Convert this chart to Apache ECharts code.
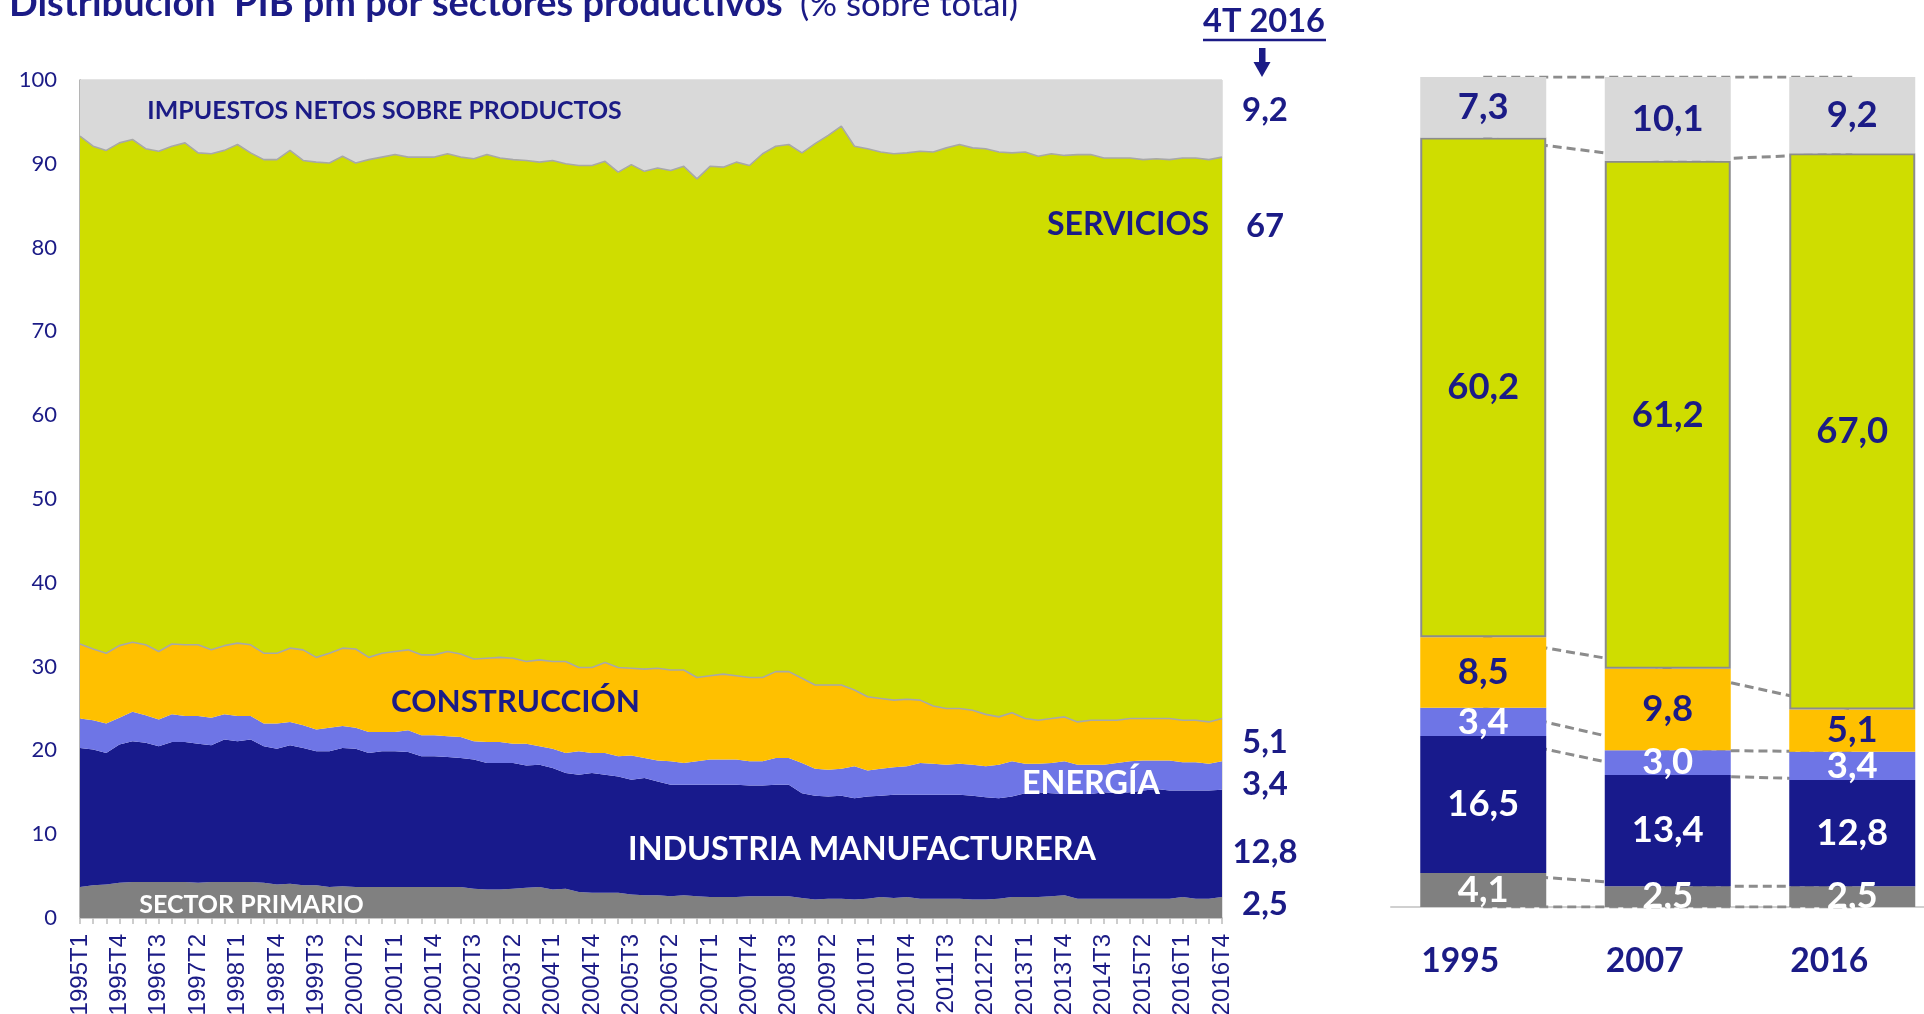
<!DOCTYPE html>
<html>
<head>
<meta charset="utf-8">
<title>Distribución PIB pm por sectores productivos</title>
<script src="https://cdn.jsdelivr.net/npm/echarts@6/dist/echarts.min.js"></script>
<style>
  html, body { margin: 0; padding: 0; background: #ffffff; }
  #chart { width: 1924px; height: 1014px; }
</style>
</head>
<body>
<div id="chart"></div>
<script>
// Quarterly categories 1995T1 … 2016T4
const years = [1995, 1996, 1997, 1998, 1999, 2000, 2001, 2002, 2003, 2004, 2005,
               2006, 2007, 2008, 2009, 2010, 2011, 2012, 2013, 2014, 2015, 2016];
const quarters = [];
years.forEach(y => { for (let q = 1; q <= 4; q++) quarters.push(y + 'T' + q); });

// Share of GDP at market prices by sector, % of total (quarterly)
const primario = [3.7,3.9,4.0,4.2,4.3,4.3,4.3,4.3,4.3,4.2, 4.3,4.3,4.3,4.3,4.2,4.0,4.1,3.9,3.9,3.7,
                  3.8,3.7,3.7,3.7,3.7,3.7,3.7,3.7,3.7,3.7, 3.5,3.4,3.4,3.5,3.6,3.7,3.4,3.5,3.1,3.0,
                  3.0,3.0,2.8,2.7,2.7,2.6,2.7,2.6,2.5,2.5, 2.5,2.6,2.6,2.6,2.6,2.4,2.2,2.3,2.3,2.2,
                  2.3,2.5,2.4,2.5,2.3,2.3,2.3,2.3,2.2,2.2, 2.3,2.5,2.5,2.5,2.6,2.7,2.3,2.3,2.3,2.3,
                  2.3,2.3,2.3,2.3,2.5,2.3,2.3,2.5];
const industria = [16.6,16.2,15.7,16.5,16.8,16.6,16.2,16.7,16.7,16.6, 16.3,17.0,16.8,17.0,16.3,16.2,16.5,16.4,16.0,16.2,
                   16.5,16.5,16.0,16.2,16.2,16.1,15.6,15.6,15.5,15.4, 15.4,15.1,15.1,15.0,14.6,14.6,14.5,13.8,14.0,14.3,
                   14.1,13.9,13.7,14.0,13.6,13.3,13.2,13.3,13.4,13.4, 13.4,13.2,13.2,13.3,13.3,12.5,12.4,12.2,12.3,12.1,
                   12.2,12.1,12.3,12.2,12.4,12.4,12.4,12.4,12.4,12.2, 12.0,12.0,12.4,12.5,12.3,12.1,12.5,12.5,12.7,12.6,
                   12.7,12.9,13.1,12.9,12.7,12.9,12.9,12.8];
const energia = [3.5,3.5,3.5,3.2,3.5,3.3,3.2,3.3,3.1,3.3, 3.3,3.0,3.0,2.8,2.7,3.0,2.8,2.7,2.6,2.8,
                 2.6,2.5,2.5,2.3,2.3,2.6,2.5,2.5,2.5,2.5, 2.2,2.5,2.5,2.3,2.6,2.2,2.3,2.4,2.8,2.4,
                 2.6,2.4,2.9,2.4,2.5,2.8,2.6,2.8,3.0,3.0, 3.0,2.9,2.9,3.2,3.2,3.6,3.2,3.2,3.2,3.8,
                 3.1,3.2,3.3,3.4,3.8,3.7,3.6,3.7,3.7,3.7, 4.0,4.2,3.5,3.4,3.6,3.9,3.5,3.5,3.3,3.6,
                 3.7,3.6,3.4,3.6,3.4,3.4,3.2,3.4];
const construccion = [8.9,8.5,8.4,8.6,8.3,8.4,8.1,8.4,8.5,8.5, 8.1,8.2,8.7,8.5,8.4,8.4,8.8,9.0,8.6,8.9,
                      9.3,9.4,8.9,9.4,9.6,9.6,9.6,9.6,10.1,9.9, 9.8,10.0,10.1,10.2,9.8,10.3,10.4,10.9,10.0,10.2,
                      10.8,10.6,10.4,10.6,11.0,10.9,11.1,10.0,10.0,10.2, 10.0,10.0,10.0,10.3,10.3,10.1,10.0,10.1,10.0,9.1,
                      8.8,8.4,8.0,8.0,7.5,6.9,6.7,6.6,6.5,6.2, 5.7,5.8,5.4,5.2,5.3,5.3,5.1,5.3,5.3,5.1,
                      5.1,5.0,5.0,5.0,5.0,5.0,5.0,5.1];
const servicios = [60.6,60.0,60.0,60.0,60.0,59.2,59.7,59.4,59.9,58.7, 59.2,59.1,59.5,58.7,58.9,58.9,59.4,58.4,59.1,58.5,
                   58.7,58.0,59.4,59.2,59.3,58.8,59.4,59.4,59.4,59.3, 59.7,60.1,59.6,59.5,59.8,59.4,59.8,59.4,59.9,59.9,
                   59.8,59.1,60.1,59.4,59.7,59.6,60.1,59.5,60.8,60.5, 61.3,61.1,62.5,62.7,62.9,62.7,64.6,65.6,66.7,64.9,
                   65.4,65.2,65.2,65.2,65.5,66.1,66.9,67.3,67.1,67.5, 67.4,66.8,67.6,67.3,67.4,67.0,67.7,67.5,67.1,67.1,
                   66.9,66.7,66.8,66.7,67.1,67.1,67.1,67.0];
const impuestos = [6.7,7.9,8.4,7.5,7.1,8.2,8.5,7.9,7.5,8.7, 8.8,8.4,7.7,8.7,9.5,9.5,8.4,9.6,9.8,9.9,
                   9.1,9.9,9.5,9.2,8.9,9.2,9.2,9.2,8.8,9.2, 9.4,8.9,9.3,9.5,9.6,9.8,9.6,10.0,10.2,10.2,
                   9.7,11.0,10.1,10.9,10.5,10.8,10.3,11.8,10.3,10.4, 9.8,10.2,8.8,7.9,7.7,8.7,7.6,6.6,5.5,7.9,
                   8.2,8.6,8.8,8.7,8.5,8.6,8.1,7.7,8.1,8.2, 8.6,8.7,8.6,9.1,8.8,9.0,8.9,8.9,9.3,9.3,
                   9.3,9.5,9.4,9.5,9.3,9.3,9.5,9.2];

// Annual structure for the comparison columns
const barYears = ['1995', '2007', '2016'];
const barPrimario = [4.1, 2.5, 2.5];
const barIndustria = [16.5, 13.4, 12.8];
const barEnergia = [3.4, 3.0, 3.4];
const barConstruccion = [8.5, 9.8, 5.1];
const barServicios = [60.2, 61.2, 67.0];
const barImpuestos = [7.3, 10.1, 9.2];

const NAVY = '#1B1B86';
const FONT = "Lato, 'Noto Sans', sans-serif";
const COLORS = {
  primario: '#808080', industria: '#181A8C', energia: '#6E75E6',
  construccion: '#FFC000', servicios: '#CFDD00', impuestos: '#D9D9D9'
};

// Font size that makes a string span a given width
const measureCtx = document.createElement('canvas').getContext('2d');
function fitSize(text, weight, width) {
  measureCtx.font = weight + ' 100px ' + FONT;
  return 100 * width / measureCtx.measureText(text).width;
}
const fmt1 = v => v.toFixed(1).replace('.', ',');
const fmtLast = v => Number.isInteger(v) ? String(v) : fmt1(v);

const chart = echarts.init(document.getElementById('chart'), null, { renderer: 'canvas' });

// Stacked areas (left panel)
const areaDefs = [
  ['Sector primario', primario, COLORS.primario, false],
  ['Industria manufacturera', industria, COLORS.industria, false],
  ['Energía', energia, COLORS.energia, false],
  ['Construcción', construccion, COLORS.construccion, true],
  ['Servicios', servicios, COLORS.servicios, true],
  ['Impuestos netos sobre productos', impuestos, COLORS.impuestos, false]
];
const areaSeries = areaDefs.map(([name, data, color, outlined]) => ({
  name, type: 'line', stack: 'pib', xAxisIndex: 0, yAxisIndex: 0,
  data, symbol: 'none', smooth: false, z: outlined ? 3 : 2,
  lineStyle: outlined ? { color: '#A8A8A8', width: 1.6 } : { width: 0 },
  areaStyle: { color, opacity: 1 },
  itemStyle: { color }
}));

// Stacked columns (right panel)
const barSize = fitSize('60,2', 'bold', 72);
const barDefs = [
  ['Sector primario', barPrimario, COLORS.primario, '#ffffff'],
  ['Industria manufacturera', barIndustria, COLORS.industria, '#ffffff'],
  ['Energía', barEnergia, COLORS.energia, '#ffffff'],
  ['Construcción', barConstruccion, COLORS.construccion, NAVY],
  ['Servicios', barServicios, COLORS.servicios, NAVY],
  ['Impuestos netos sobre productos', barImpuestos, COLORS.impuestos, NAVY]
];
const barSeries = barDefs.map(([name, data, color, textColor]) => ({
  name: name + ' (año)', type: 'bar', stack: 'anual', xAxisIndex: 1, yAxisIndex: 1,
  data, barWidth: 126, z: 2,
  itemStyle: name === 'Servicios'
    ? { color, borderColor: '#8C8C8C', borderWidth: 2 }
    : { color },
  label: {
    show: true, position: 'inside', formatter: p => fmt1(p.value),
    fontFamily: FONT, fontWeight: 'bold', fontSize: barSize, color: textColor
  }
}));

// Dashed connectors between column boundaries
const barStacks = [barPrimario, barIndustria, barEnergia, barConstruccion, barServicios, barImpuestos];
const connectorSeries = [];
for (let k = 0; k <= barStacks.length; k++) {
  const level = barYears.map((_, j) => {
    let s = 0;
    for (let m = 0; m < k; m++) s += barStacks[m][j];
    return Math.round(s * 10) / 10;
  });
  connectorSeries.push({
    type: 'line', xAxisIndex: 1, yAxisIndex: 1, data: level, symbol: 'none',
    silent: true, z: 1,
    lineStyle: { color: '#8C8C8C', width: 3, type: [9, 5] }
  });
}

// Text annotations
function txt(text, x, y, size, opts) {
  opts = opts || {};
  const weight = opts.weight || 'bold';
  const align = opts.align || 'center';
  return {
    type: 'text', x, y, z: 100, silent: true,
    style: {
      text, font: weight + ' ' + size.toFixed(1) + 'px ' + FONT,
      fill: opts.color || NAVY,
      align, textAlign: align, verticalAlign: 'middle', textVerticalAlign: 'middle'
    }
  };
}
const inside = [
  ['IMPUESTOS NETOS SOBRE PRODUCTOS', 147, 622, 111, NAVY],
  ['SERVICIOS', 1047, 1209, 225, NAVY],
  ['CONSTRUCCIÓN', 391, 640, 702, NAVY],
  ['ENERGÍA', 1022, 1160, 784, '#ffffff'],
  ['INDUSTRIA MANUFACTURERA', 628, 1096, 850, '#ffffff'],
  ['SECTOR PRIMARIO', 139, 364, 905, '#ffffff']
].map(([t, x0, x1, y, c]) => txt(t, (x0 + x1) / 2, y, fitSize(t, 'bold', x1 - x0), { color: c }));

const lastSize = fitSize('12,8', 'bold', 65);
const last = arr => arr[arr.length - 1];
const endLabels = [
  [last(impuestos), 110], [last(servicios), 226], [last(construccion), 742],
  [last(energia), 784], [last(industria), 852], [last(primario), 904]
].map(([v, y]) => txt(fmtLast(v), 1265, y, lastSize));

const titleText = 'Distribución  PIB pm por sectores productivos';
const titleSize = fitSize(titleText, 'bold', 773);
const subText = '(% sobre total)';
const subSize = fitSize(subText, 'normal', 218);
const periodText = '4T 2016';
const periodSize = fitSize(periodText, 'bold', 122);

const graphics = [
  txt(titleText, 9, 17 - 0.35 * titleSize, titleSize, { align: 'left' }),
  txt(subText, 800, 17 - 0.35 * subSize, subSize, { align: 'left', weight: 'normal' }),
  txt(periodText, 1264, 33 - 0.35 * periodSize, periodSize),
  { type: 'line', z: 100, silent: true, shape: { x1: 1203, y1: 40, x2: 1326, y2: 40 },
    style: { stroke: NAVY, lineWidth: 2.5 } },
  { type: 'rect', z: 100, silent: true, shape: { x: 1259, y: 48, width: 6.5, height: 15 },
    style: { fill: NAVY } },
  { type: 'polygon', z: 100, silent: true, shape: { points: [[1253.5, 62], [1270.5, 62], [1262, 77]] },
    style: { fill: NAVY } },
  // trims the column labels at the baseline
  { type: 'rect', z: 90, silent: true, shape: { x: 1380, y: 909, width: 544, height: 28 },
    style: { fill: '#ffffff' } }
].concat(inside, endLabels);

const catSize = fitSize('1995', 'bold', 78);

chart.setOption({
  animation: false,
  backgroundColor: '#ffffff',
  grid: [
    { left: 80, top: 80, width: 1142, height: 838, show: true, outerBoundsMode: 'none',
      borderColor: '#C6C6C6', borderWidth: 1, backgroundColor: 'transparent' },
    // three 184.5 px column slots; the last slot runs past the right edge
    { left: 1391, top: 77, width: 553.5, height: 830, outerBoundsMode: 'none' }
  ],
  xAxis: [
    { type: 'category', gridIndex: 0, data: quarters, boundaryGap: false,
      axisLine: { show: true, lineStyle: { color: '#C8C8C8', width: 2 } },
      axisTick: { show: true, interval: 0, length: 6, lineStyle: { color: '#BDBDBD', width: 1.5 } },
      axisLabel: { interval: 2, rotate: 90, margin: 16,
        fontFamily: "'Liberation Sans', Arial, sans-serif", fontSize: 24, color: NAVY },
      splitLine: { show: false } },
    { type: 'category', gridIndex: 1, data: barYears, boundaryGap: true,
      axisLine: { show: true, lineStyle: { color: '#D0D0D0', width: 2 } },
      axisTick: { show: false },
      axisLabel: { margin: 37, fontFamily: FONT, fontWeight: 'bold', fontSize: catSize,
        color: NAVY, padding: [0, 46, 0, 0] } }
  ],
  yAxis: [
    { type: 'value', gridIndex: 0, min: 0, max: 100, interval: 10,
      axisLine: { show: true, lineStyle: { color: '#A6A6A6', width: 1.5 } },
      axisTick: { show: false }, splitLine: { show: false },
      axisLabel: { margin: 23, fontFamily: FONT, fontSize: 22, color: NAVY } },
    { type: 'value', gridIndex: 1, min: 0, max: 100, show: false, splitLine: { show: false } }
  ],
  series: areaSeries.concat(connectorSeries, barSeries),
  graphic: { elements: graphics }
});
</script>
</body>
</html>
